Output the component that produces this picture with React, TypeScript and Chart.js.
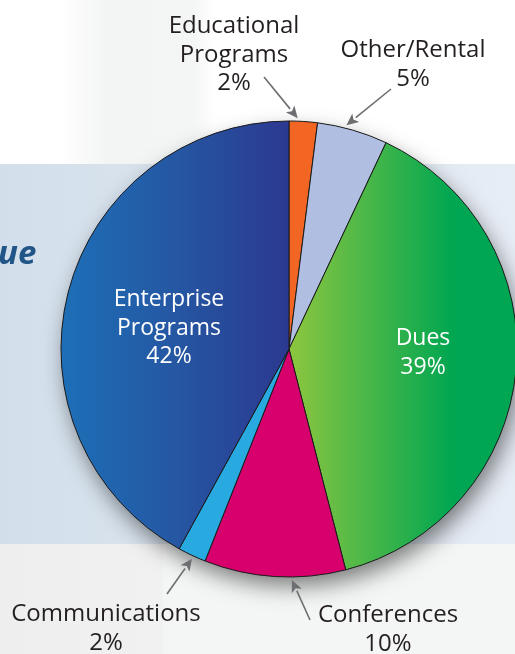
import React, { useEffect, useRef } from 'react';
import { Chart, registerables } from 'chart.js';

Chart.register(...registerables);

// ---- data ----
const categories = ['Educational Programs', 'Other/Rental', 'Dues', 'Conferences', 'Communications', 'Enterprise Programs'];
const values = [2, 5, 39, 10, 2, 42];
const percentLabels = ['2%', '5%', '39%', '10%', '2%', '42%'];
const labelLines = [
  ['Educational', 'Programs'],
  ['Other/Rental'],
  ['Dues'],
  ['Conferences'],
  ['Communications'],
  ['Enterprise', 'Programs'],
];
const partialTitle = 'ue';

// ---- styles / layout ----
const W = 515;
const H = 654;
const RADIUS = 228;
const solidColors = ['#f26522', '#b0bfe1', '#00a651', '#d7006d', '#28aae1', '#2b3990'];
const labelLayout = [
  { x: 234, y: 33, inside: false, tail: [264, 77], frac: 0.3 },
  { x: 413, y: 57, inside: false, tail: [391, 89], frac: 0.4 },
  { x: 423, y: 345, inside: true },
  { x: 388, y: 622, inside: false, tail: [310, 620], frac: 0.38 },
  { x: 106, y: 621, inside: false, tail: [167, 594], frac: 0.45 },
  { x: 169, y: 306, inside: true },
];
const LINE_H = 28.5;
const FONT_OUT = '24px "Open Sans", "Noto Sans", sans-serif';
const FONT_IN = '23px "Open Sans", "Noto Sans", sans-serif';

const bgPlugin = {
  id: 'bgPlugin',
  beforeDraw(chart: any) {
    const ctx = chart.ctx;
    ctx.save();
    const g1 = ctx.createLinearGradient(0, 0, 215, 0);
    g1.addColorStop(0, '#ffffff');
    g1.addColorStop(0.28, '#ffffff');
    g1.addColorStop(0.5, '#f3f4f4');
    g1.addColorStop(0.9, '#f4f5f5');
    g1.addColorStop(1, '#ffffff');
    ctx.fillStyle = g1;
    ctx.fillRect(0, 0, W, 164);
    ctx.fillStyle = '#ffffff';
    ctx.fillRect(215, 0, W - 215, 164);
    const g2 = ctx.createLinearGradient(0, 0, W, 0);
    g2.addColorStop(0, '#d2dfeb');
    g2.addColorStop(0.4, '#dbe4ee');
    g2.addColorStop(1, '#e7edf5');
    ctx.fillStyle = g2;
    ctx.fillRect(0, 164, W, 380);
    const g3 = ctx.createLinearGradient(0, 0, 163, 0);
    g3.addColorStop(0, '#eeeeef');
    g3.addColorStop(1, '#f1f1f2');
    ctx.fillStyle = g3;
    ctx.fillRect(0, 544, 163, H - 544);
    ctx.fillStyle = '#f4f5f5';
    ctx.fillRect(163, 544, W - 163, H - 544);
    ctx.fillStyle = '#215487';
    ctx.font = 'italic bold 33px "Open Sans", "Noto Sans", sans-serif';
    ctx.textAlign = 'left';
    ctx.textBaseline = 'alphabetic';
    ctx.fillText(partialTitle, -2, 264);
    ctx.restore();
  },
  beforeDatasetsDraw(chart: any) {
    const ctx = chart.ctx;
    const arc = chart.getDatasetMeta(0).data[0];
    if (!arc) return;
    ctx.save();
    ctx.shadowColor = 'rgba(0,0,0,0.5)';
    ctx.shadowBlur = 22;
    ctx.shadowOffsetX = 4;
    ctx.shadowOffsetY = 10;
    ctx.fillStyle = '#999';
    ctx.beginPath();
    ctx.arc(arc.x, arc.y, arc.outerRadius - 1, 0, Math.PI * 2);
    ctx.fill();
    ctx.restore();
  },
};

const labelPlugin = {
  id: 'labelPlugin',
  afterDatasetsDraw(chart: any) {
    const ctx = chart.ctx;
    const arcs = chart.getDatasetMeta(0).data;
    ctx.save();
    ctx.textAlign = 'center';
    ctx.textBaseline = 'alphabetic';
    categories.forEach((_, i) => {
      const lay = labelLayout[i];
      const lines = [...labelLines[i], percentLabels[i]];
      ctx.font = lay.inside ? FONT_IN : FONT_OUT;
      ctx.fillStyle = lay.inside ? '#ffffff' : '#231f20';
      lines.forEach((t, k) => ctx.fillText(t, lay.x, lay.y + k * LINE_H));
      if (!lay.inside && lay.tail) {
        const a = arcs[i];
        const ang = a.startAngle + (a.endAngle - a.startAngle) * (lay.frac as number);
        const r = a.outerRadius + 3;
        const tx = a.x + Math.cos(ang) * r;
        const ty = a.y + Math.sin(ang) * r;
        const [sx, sy] = lay.tail as number[];
        const dir = Math.atan2(ty - sy, tx - sx);
        const headLen = 12;
        const headW = 5.5;
        const bx = tx - Math.cos(dir) * headLen;
        const by = ty - Math.sin(dir) * headLen;
        ctx.strokeStyle = '#6d6e71';
        ctx.fillStyle = '#6d6e71';
        ctx.lineWidth = 1.6;
        ctx.beginPath();
        ctx.moveTo(sx, sy);
        ctx.lineTo(bx, by);
        ctx.stroke();
        ctx.beginPath();
        ctx.moveTo(tx, ty);
        ctx.lineTo(bx + Math.sin(dir) * headW, by - Math.cos(dir) * headW);
        ctx.lineTo(bx + Math.cos(dir) * 3, by + Math.sin(dir) * 3);
        ctx.lineTo(bx - Math.sin(dir) * headW, by + Math.cos(dir) * headW);
        ctx.closePath();
        ctx.fill();
      }
    });
    ctx.restore();
  },
};

export default function App() {
  const ref = useRef<HTMLCanvasElement | null>(null);
  useEffect(() => {
    if (!ref.current) return;
    const chart = new Chart(ref.current, {
      type: 'pie',
      data: {
        labels: categories,
        datasets: [
          {
            data: values,
            clip: false as any,
            borderColor: '#1a1a1a',
            borderWidth: 1,
            backgroundColor: (c: any) => {
              const i = c.dataIndex;
              const chartObj = c.chart;
              const area = chartObj.chartArea;
              if (!area) return solidColors[i];
              const cx = (area.left + area.right) / 2;
              const g = chartObj.ctx;
              if (i === 5) {
                const lg = g.createLinearGradient(cx - RADIUS, 0, cx, 0);
                lg.addColorStop(0, '#1d6fb7');
                lg.addColorStop(0.5, '#2557a3');
                lg.addColorStop(1, '#2b3990');
                return lg;
              }
              if (i === 2) {
                const lg = g.createLinearGradient(cx, 0, cx + RADIUS * 0.72, 0);
                lg.addColorStop(0, '#8dc63f');
                lg.addColorStop(0.45, '#4db848');
                lg.addColorStop(1, '#00a651');
                return lg;
              }
              return solidColors[i];
            },
          },
        ],
      },
      options: {
        responsive: false,
        animation: false,
        events: [],
        radius: RADIUS,
        layout: { padding: { left: 63, top: 44, right: 0, bottom: 0 } },
        plugins: { legend: { display: false }, tooltip: { enabled: false } },
      } as any,
      plugins: [bgPlugin, labelPlugin],
    });
    return () => chart.destroy();
  }, []);
  return (
    <div style={{ position: 'fixed', left: 0, top: 0, width: W, height: H, overflow: 'hidden' }}>
      <canvas ref={ref} width={W} height={H} style={{ display: 'block' }} />
    </div>
  );
}
